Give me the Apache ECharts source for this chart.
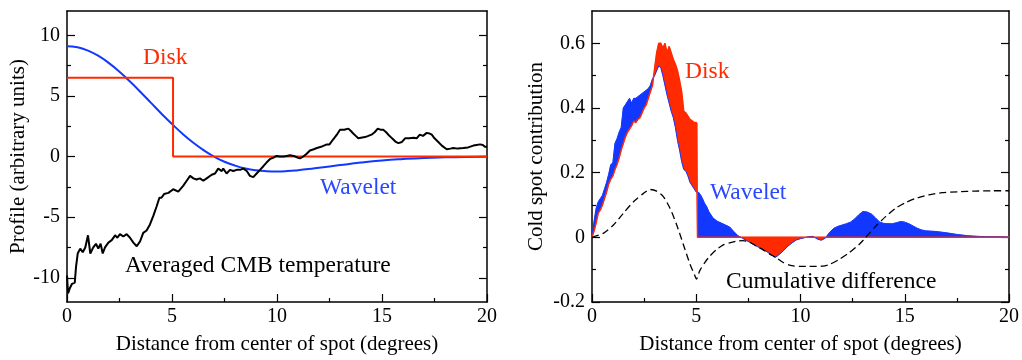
<!DOCTYPE html>
<html><head><meta charset="utf-8">
<script src="https://cdn.jsdelivr.net/npm/echarts@6/dist/echarts.min.js"></script>
<style>html,body{margin:0;padding:0;background:#fff}#c{width:1022px;height:360px}</style>
</head><body><div id="c"></div>
<script>
// ---------- LEFT PANEL DATA ----------
const leftYMajor = [-10, -5, 0, 5, 10];
const leftYMinor = [-7.5, -2.5, 2.5, 7.5];
const lWaveX = [0,0.5,1,1.5,2,2.5,3,3.5,4,4.5,5,5.5,6,6.5,7,7.5,8,8.5,9,9.5,10,10.5,11,11.5,12,13,14,15,16,17,18,19,20];
const lWaveY = [9.10,9.01,8.73,8.29,7.70,6.99,6.18,5.32,4.42,3.53,2.68,1.88,1.16,0.53,0,-0.43,-0.75,-0.99,-1.14,-1.21,-1.23,-1.20,-1.13,-1.04,-0.93,-0.71,-0.50,-0.33,-0.21,-0.12,-0.07,-0.04,-0.02];
const lDiskX = [0, 5.05, 5.05, 20];
const lDiskY = [6.5, 6.5, 0, 0];
const cmbX = [
 0,0.05,0.15,0.24,0.37,0.43,0.51,0.63,0.75,0.87,
 1.0,1.11,1.25,1.38,1.49,1.6,1.7,1.81,1.97,2.13,
 2.29,2.4,2.52,2.68,2.84,3.0,3.16,3.32,3.48,3.63,
 3.79,3.95,4.11,4.27,4.4,4.5,4.62,4.83,5.06,5.14,
 5.3,5.54,5.7,5.86,6.02,6.17,6.33,6.49,6.65,6.89,
 7.05,7.2,7.37,7.44,7.6,7.76,7.92,8.08,8.24,8.4,
 8.56,8.71,8.87,9.03,9.19,9.35,9.5,9.67,9.83,9.98,
 10.14,10.3,10.46,10.62,10.8,11.0,11.1,11.25,11.4,11.57,
 11.75,11.9,12.1,12.37,12.5,12.67,12.85,13.0,13.2,13.4,
 13.52,13.63,13.75,13.87,14.0,14.19,14.35,14.5,14.65,14.8,
 14.95,15.06,15.2,15.3,15.42,15.54,15.66,15.78,15.95,16.1,
 16.3,16.5,16.65,16.8,16.95,17.13,17.25,17.37,17.5,17.68,
 17.85,18.08,18.25,18.4,18.6,18.87,19.1,19.35,19.5,19.67,
 19.8,19.9,20.0];
const cmbY = [
 -9.8,-11.3,-10.8,-10.5,-10.4,-9.1,-8.0,-7.6,-7.9,-7.5,
 -6.5,-8.0,-7.5,-7.2,-7.6,-7.2,-8.0,-7.5,-7.1,-6.9,
 -6.5,-6.7,-6.4,-6.6,-6.4,-6.7,-7.1,-7.4,-7.0,-6.3,
 -6.1,-5.6,-4.9,-4.1,-3.4,-3.4,-3.1,-3.0,-2.7,-2.6,
 -2.9,-2.4,-2.0,-1.6,-1.8,-1.9,-1.8,-2.0,-1.8,-1.5,
 -1.4,-1.0,-1.2,-1.0,-1.4,-1.1,-1.2,-1.1,-1.1,-1.0,
 -1.2,-1.6,-1.7,-1.4,-1.1,-0.8,-0.5,-0.2,-0.1,0.05,
 0.0,0.0,0.05,0.1,0.05,-0.1,-0.15,0.0,0.2,0.5,
 0.6,0.7,0.8,1.0,1.0,1.4,1.8,2.2,2.2,2.3,
 2.1,1.9,1.7,1.5,1.55,1.6,1.7,1.8,2.0,2.3,
 2.2,2.2,2.0,1.8,1.6,1.4,1.2,1.1,1.2,1.5,
 1.5,1.55,1.5,1.8,1.7,1.95,1.9,1.8,1.5,1.2,
 0.9,0.6,0.65,0.7,0.65,0.7,0.75,0.9,0.95,1.0,
 0.95,0.8,0.8];

// ---------- RIGHT PANEL DATA ----------
const rightYMajor = [-0.2, 0, 0.2, 0.4, 0.6];
const rightYMinor = [-0.1, 0.1, 0.3, 0.5];
const rX = [
 0,0.1,0.2,0.3,0.4,0.5,0.6,0.7,0.8,0.9,
 1.0,1.1,1.2,1.3,1.4,1.5,1.6,1.7,1.8,1.9,
 2.0,2.1,2.2,2.3,2.4,2.5,2.6,2.7,2.8,2.9,
 3.0,3.1,3.2,3.3,3.4,3.5,3.6,3.7,3.8,3.9,
 4.0,4.1,4.2,4.3,4.4,4.5,4.6,4.7,4.8,4.9,
 5.0,5.05,5.06,5.1,5.2,5.3,5.4,5.5,5.6,5.7,5.8,5.9,6.0,
 6.2,6.4,6.6,6.8,7.0,7.2,7.4,7.6,7.8,8.0,
 8.2,8.4,8.6,8.8,9.0,9.2,9.4,9.6,9.8,10.0,
 10.2,10.4,10.6,10.8,11.0,11.2,11.4,11.6,11.8,12.0,
 12.2,12.4,12.6,12.8,13.0,13.2,13.4,13.6,13.8,14.0,
 14.2,14.4,14.6,14.8,15.0,15.2,15.4,15.6,15.8,16.0,
 16.5,17,17.5,18,18.5,19,19.5,20];
const diskC = [
 0,0.02,0.045,0.075,0.085,0.10,0.12,0.14,0.165,0.18,
 0.19,0.21,0.225,0.245,0.27,0.29,0.31,0.325,0.335,0.345,
 0.36,0.355,0.365,0.37,0.385,0.40,0.41,0.43,0.45,0.47,
 0.52,0.57,0.60,0.60,0.585,0.60,0.57,0.59,0.57,0.55,
 0.535,0.515,0.485,0.45,0.39,0.385,0.375,0.365,0.36,0.355,
 0.355,0.353,0,0,0,0,0,0,0,0,0,0,0,
 0,0,0,0,0,0,0,0,0,0,
 0,0,0,0,0,0,0,0,0,0,
 0,0,0,0,0,0,0,0,0,0,
 0,0,0,0,0,0,0,0,0,0,
 0,0,0,0,0,0,0,0,0,0,
 0,0,0,0,0,0,0,0];
const waveC = [
 0,0.05,0.09,0.11,0.12,0.13,0.15,0.17,0.195,0.225,
 0.23,0.29,0.305,0.325,0.34,0.40,0.41,0.42,0.43,0.415,
 0.43,0.43,0.435,0.44,0.445,0.45,0.455,0.46,0.47,0.49,
 0.50,0.515,0.53,0.525,0.50,0.47,0.44,0.415,0.39,0.37,
 0.34,0.30,0.27,0.235,0.21,0.205,0.19,0.17,0.16,0.15,
 0.14,0.14,0.14,0.14,0.132,0.12,0.105,0.095,0.08,0.07,0.06,0.055,0.05,
 0.044,0.038,0.032,0.018,0.005,-0.002,-0.01,-0.016,-0.024,-0.031,
 -0.037,-0.045,-0.054,-0.062,-0.052,-0.04,-0.027,-0.017,-0.008,-0.004,
 -0.001,0.002,0.003,-0.005,-0.009,-0.002,0.016,0.028,0.034,0.038,
 0.042,0.047,0.057,0.07,0.08,0.078,0.072,0.06,0.047,0.043,
 0.042,0.042,0.045,0.049,0.047,0.042,0.035,0.028,0.023,0.02,
 0.018,0.014,0.009,0.005,0.003,0.002,0.002,0.001];
const cumX = [0,0.56,1.04,1.51,1.99,2.47,2.79,3.1,3.42,3.74,4.06,4.38,4.7,4.93,5.01,5.17,5.41,5.65,5.97,6.28,6.6,6.92,7.24,7.56,7.88,8.19,8.51,8.83,9.15,9.47,9.95,10.42,11.06,11.38,11.86,12.33,12.81,13.13,13.6,14.08,14.56,15.03,15.51,16.15,16.79,17.58,18.38,19.17,20];
const cumY = [0,0.013,0.039,0.075,0.11,0.136,0.148,0.143,0.126,0.09,0.039,-0.022,-0.083,-0.118,-0.129,-0.103,-0.078,-0.058,-0.038,-0.024,-0.017,-0.012,-0.01,-0.015,-0.027,-0.038,-0.051,-0.063,-0.077,-0.086,-0.09,-0.09,-0.089,-0.084,-0.068,-0.048,-0.022,0,0.034,0.064,0.09,0.107,0.12,0.131,0.138,0.141,0.143,0.144,0.144];

// ---------- STYLE ----------
const FONT = '"Liberation Serif","Times New Roman",serif';
const RED = '#ff2a00', BLUE = '#1238ff', TXTBLUE = '#2a48ff';
const pairs = (xs, ys) => xs.map((x, i) => [x, ys[i]]);

function xAxes(gridIndex) {
  return [
    { type: 'value', gridIndex, position: 'bottom', min: 0, max: 20, interval: 5,
      axisLine: { show: true, onZero: false, lineStyle: { color: '#000', width: 1.5 } },
      axisTick: { show: true, inside: true, length: 8, lineStyle: { color: '#000', width: 1.2 } },
      minorTick: { show: true, splitNumber: 2, length: 4, lineStyle: { color: '#000', width: 1.2 } },
      axisLabel: { color: '#000', fontFamily: FONT, fontSize: 20, margin: 5 },
      splitLine: { show: false },
      name: 'Distance from center of spot (degrees)', nameLocation: 'middle', nameGap: 32,
      nameTextStyle: { color: '#000', fontFamily: FONT, fontSize: 21 } },
    { type: 'value', gridIndex, position: 'top', min: 0, max: 20, interval: 5,
      axisLine: { show: true, onZero: false, lineStyle: { color: '#000', width: 1.5 } },
      axisTick: { show: false }, axisLabel: { show: false }, splitLine: { show: false } }
  ];
}
function yAxes(gridIndex, min, max, majors, minors, name, nameGap) {
  const base = { type: 'value', gridIndex, min, max, splitLine: { show: false } };
  const tick = (vals, len) => ({ show: true, inside: true, length: len, customValues: vals,
                                 lineStyle: { color: '#000', width: 1.2 } });
  return [
    Object.assign({}, base, { position: 'left',
      axisLine: { show: true, onZero: false, lineStyle: { color: '#000', width: 1.5 } },
      axisTick: tick(majors, 8),
      axisLabel: { show: true, customValues: majors, color: '#000', fontFamily: FONT, fontSize: 20, margin: 7 },
      name, nameLocation: 'middle', nameGap,
      nameTextStyle: { color: '#000', fontFamily: FONT, fontSize: 21 } }),
    Object.assign({}, base, { position: 'left', axisLine: { show: false, onZero: false },
      axisTick: tick(minors, 4), axisLabel: { show: false } }),
    Object.assign({}, base, { position: 'right',
      axisLine: { show: true, onZero: false, lineStyle: { color: '#000', width: 1.5 } },
      axisTick: tick(majors, 8), axisLabel: { show: false } }),
    Object.assign({}, base, { position: 'right', axisLine: { show: false, onZero: false },
      axisTick: tick(minors, 4), axisLabel: { show: false } })
  ];
}

// Regions between the wavelet and disk contribution curves, merged by colour
// (blue where the wavelet contribution is larger, red where the disk one is).
function buildRegions() {
  const regions = [];
  let cur = null;
  const add = (col, wPts, dPts) => {
    if (!cur || (col && cur.col !== col)) {
      cur = { col: col || BLUE, w: [], d: [] };
      regions.push(cur);
    }
    wPts.forEach((p, k) => { if (!(cur.w.length && k === 0)) cur.w.push(p); });
    dPts.forEach((p, k) => { if (!(cur.d.length && k === 0)) cur.d.push(p); });
  };
  for (let i = 0; i < rX.length - 1; i++) {
    const x0 = rX[i], w0 = waveC[i], d0 = diskC[i];
    const x1 = rX[i + 1], w1 = waveC[i + 1], d1 = diskC[i + 1];
    const e0 = w0 - d0, e1 = w1 - d1;
    if (e0 * e1 >= 0) {
      const s = e0 + e1;
      add(s > 0 ? BLUE : (s < 0 ? RED : null), [[x0, w0], [x1, w1]], [[x0, d0], [x1, d1]]);
    } else {
      const t = e0 / (e0 - e1);
      const xc = x0 + t * (x1 - x0), yc = w0 + t * (w1 - w0);
      add(e0 > 0 ? BLUE : RED, [[x0, w0], [xc, yc]], [[x0, d0], [xc, yc]]);
      cur = null;
      add(e1 > 0 ? BLUE : RED, [[xc, yc], [x1, w1]], [[xc, yc], [x1, d1]]);
    }
  }
  return regions;
}
const fillRegions = buildRegions();

function renderFill(params, api) {
  const r = fillRegions[params.dataIndex];
  const pts = r.w.concat(r.d.slice().reverse()).map(p => api.coord(p));
  return { type: 'polygon', shape: { points: pts },
           style: { fill: r.col, stroke: r.col, lineWidth: 0.5 } };
}

const line = (o) => Object.assign({ type: 'line', symbol: 'none', silent: true, animation: false }, o);

const option = {
  animation: false,
  grid: [
    { left: 67, top: 11, width: 420, height: 294 },
    { left: 592, top: 11, width: 419, height: 294 }
  ],
  xAxis: [...xAxes(0), ...xAxes(1)],
  yAxis: [
    ...yAxes(0, -12, 12, leftYMajor, leftYMinor, 'Profile (arbitrary units)', 37),
    ...yAxes(1, -0.2, 0.7, rightYMajor, rightYMinor, 'Cold spot contribution', 45)
  ],
  series: [
    line({ xAxisIndex: 0, yAxisIndex: 0, data: pairs(lWaveX, lWaveY), smooth: true,
           lineStyle: { color: BLUE, width: 2 } }),
    line({ xAxisIndex: 0, yAxisIndex: 0, data: pairs(lDiskX, lDiskY),
           lineStyle: { color: RED, width: 2 } }),
    line({ xAxisIndex: 0, yAxisIndex: 0, data: pairs(cmbX, cmbY),
           lineStyle: { color: '#000', width: 2 } }),

    { type: 'custom', xAxisIndex: 2, yAxisIndex: 4,
      data: fillRegions.map(r => [r.w[0][0], r.w[0][1]]), renderItem: renderFill,
      silent: true, animation: false, clip: true },
    line({ xAxisIndex: 2, yAxisIndex: 4, data: pairs(rX, waveC),
           lineStyle: { color: BLUE, width: 1 } }),
    line({ xAxisIndex: 2, yAxisIndex: 4, data: pairs(rX, diskC),
           lineStyle: { color: RED, width: 1.5 } }),
    line({ xAxisIndex: 2, yAxisIndex: 4, data: pairs(cumX, cumY), smooth: 0.25,
           lineStyle: { color: '#000', width: 1.3, type: [7, 4] } })
  ],
  graphic: [
    { type: 'text', x: 143, y: 58, style: { text: 'Disk', fill: RED, font: '23.5px ' + FONT, verticalAlign: 'middle' } },
    { type: 'text', x: 320, y: 188, style: { text: 'Wavelet', fill: TXTBLUE, font: '23.5px ' + FONT, verticalAlign: 'middle' } },
    { type: 'text', x: 125, y: 266, style: { text: 'Averaged CMB temperature', fill: '#000', font: '23.5px ' + FONT, verticalAlign: 'middle' } },
    { type: 'text', x: 685, y: 72, style: { text: 'Disk', fill: RED, font: '23.5px ' + FONT, verticalAlign: 'middle' } },
    { type: 'text', x: 710, y: 193, style: { text: 'Wavelet', fill: TXTBLUE, font: '23.5px ' + FONT, verticalAlign: 'middle' } },
    { type: 'text', x: 726, y: 282, style: { text: 'Cumulative difference', fill: '#000', font: '23.5px ' + FONT, verticalAlign: 'middle' } }
  ]
};
const chart = echarts.init(document.getElementById('c'), null, { renderer: 'canvas' });
chart.setOption(option);
</script>
</body></html>
